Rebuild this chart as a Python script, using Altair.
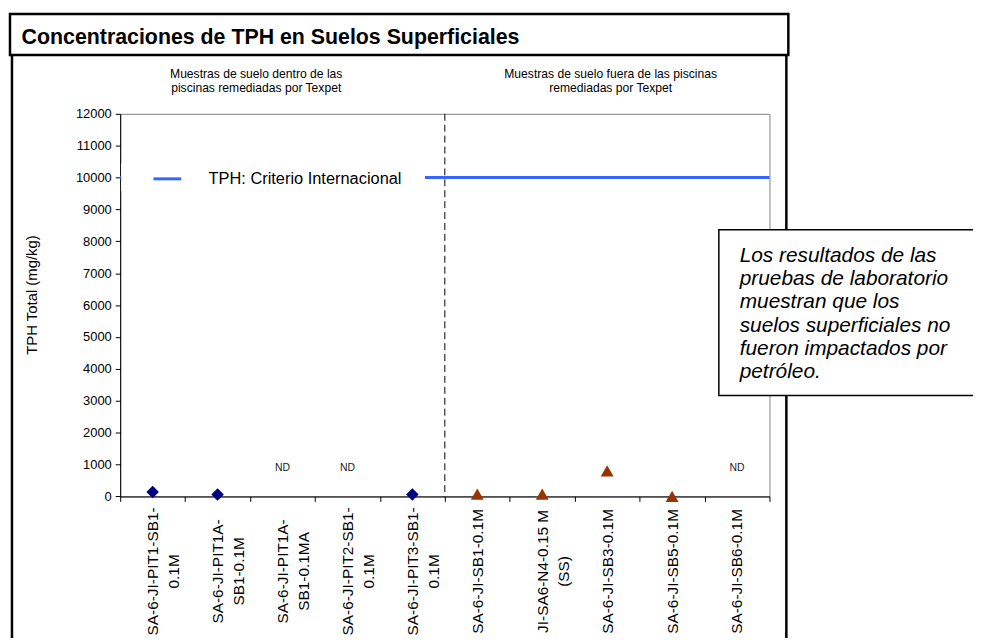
import altair as alt
import pandas as pd

# ---------------- data ----------------
categories = [
    "SA-6-JI-PIT1-SB1-|0.1M",
    "SA-6-JI-PIT1A-|SB1-0.1M",
    "SA-6-JI-PIT1A-|SB1-0.1MA",
    "SA-6-JI-PIT2-SB1-|0.1M",
    "SA-6-JI-PIT3-SB1-|0.1M",
    "SA-6-JI-SB1-0.1M",
    "JI-SA6-N4-0.15 M|(SS)",
    "SA-6-JI-SB3-0.1M",
    "SA-6-JI-SB5-0.1M",
    "SA-6-JI-SB6-0.1M",
]
inside_values = [140, 60, None, None, 60, None, None, None, None, None]
outside_values = [None, None, None, None, None, 70, 70, 800, 5, None]
nd_flags = [False, False, True, True, False, False, False, False, False, True]
nd_level = 900
nd_text = "ND"
criterion_value = 10000
criterion_label = "TPH: Criterio Internacional"
divider_category = categories[5]
y_ticks = list(range(0, 12001, 1000))

title_text = "Concentraciones de TPH en Suelos Superficiales"
subtitle_left = ["Muestras de suelo dentro de las", "piscinas remediadas por Texpet"]
subtitle_right = ["Muestras de suelo fuera de las piscinas", "remediadas por Texpet"]
y_title = "TPH Total (mg/kg)"
note_lines = [
    "Los resultados de las",
    "pruebas de laboratorio",
    "muestran que los",
    "suelos superficiales no",
    "fueron impactados por",
    "petróleo.",
]

FONT = "Liberation Sans"
W, H = 654, 385.4

# ---------------- tables ----------------
inside_df = pd.DataFrame({"cat": categories, "v": inside_values}).dropna()
outside_df = pd.DataFrame({"cat": categories, "v": outside_values}).dropna()
nd_df = pd.DataFrame({
    "cat": [c for c, f in zip(categories, nd_flags) if f],
    "v": [nd_level for f in nd_flags if f],
    "label": [nd_text for f in nd_flags if f],
})
crit_df = pd.DataFrame({"v": [criterion_value], "serie": [criterion_label]})
div_df = pd.DataFrame({"cat": [divider_category]})
one = pd.DataFrame({"a": [0]})

x_scale = alt.Scale(domain=categories, paddingInner=0, paddingOuter=0)
x_axis = alt.Axis(
    title=None, tickBand="extent", labelAngle=270, labelAlign="center",
    labelBaseline="middle", labelPadding=70, tickSize=5,
    labelExpr="split(datum.label, '|')", labelLineHeight=21.5,
    labelFontSize=15.5, labelFont=FONT, labelColor="black",
    domainColor="black", tickColor="black", labelOverlap=False,
    labelLimit=400, grid=False,
)
y_scale = alt.Scale(domain=[0, 12000], nice=False, zero=True)
y_axis = alt.Axis(
    values=y_ticks, format="d", grid=False, tickSize=5, labelPadding=4,
    labelFontSize=13, labelFont=FONT, labelColor="black",
    domainColor="black", tickColor="black",
    title=y_title, titleFont=FONT, titleFontSize=15, titleFontWeight="normal",
    titleColor="black", titleAngle=270, titleX=-89, titleY=182,
    titleAlign="center", titleBaseline="middle",
)


def X(**kw):
    return alt.X("cat:N", sort=categories, scale=x_scale, axis=x_axis, **kw)


def Y():
    return alt.Y("v:Q", scale=y_scale, axis=y_axis)


def deco_rect(x, x2, y, y2, **kw):
    return alt.Chart(one).mark_rect(**kw).encode(
        x=alt.value(x), x2=alt.value(x2), y=alt.value(y), y2=alt.value(y2))


def deco_vline(x, y, y2, **kw):
    return alt.Chart(one).mark_rule(**kw).encode(
        x=alt.value(x), y=alt.value(y), y2=alt.value(y2))


def deco_text(x, y, text, **kw):
    return alt.Chart(one).mark_text(font=FONT, color="black", **kw).encode(
        x=alt.value(x), y=alt.value(y), text=alt.value(text))


# ---------------- layers ----------------
title_box = deco_rect(-111, 673, -100.6, -59.3, fill="white", stroke="black", strokeWidth=2.5)
frame_left = deco_vline(-109, -59.3, 540, color="black", strokeWidth=2.5)
frame_right = deco_vline(671, -59.3, 540, color="black", strokeWidth=2.5)

criterion = alt.Chart(crit_df).mark_rule(strokeWidth=3).encode(
    y=Y(),
    color=alt.Color(
        "serie:N", scale=alt.Scale(range=["#3366FF"]),
        legend=alt.Legend(
            orient="none", legendX=32, legendY=50, title=None,
            symbolType="stroke", symbolSize=784, symbolStrokeWidth=3,
            labelFont=FONT, labelFontSize=16.5, labelColor="black",
            labelOffset=26, padding=0, labelLimit=400,
        ),
    ),
)
legend_mask = deco_rect(1, 307, 50, 78, fill="white")

divider = alt.Chart(div_df).mark_rule(
    color="black", strokeWidth=1, strokeDash=[7, 4]
).encode(x=X(bandPosition=0))

inside_pts = alt.Chart(inside_df).mark_point(
    shape="diamond", filled=True, size=160, color="#000080", opacity=1
).encode(x=X(), y=Y())
outside_pts = alt.Chart(outside_df).mark_point(
    shape="triangle-up", filled=True, size=170, color="#993300", opacity=1
).encode(x=X(), y=Y())
nd_labels = alt.Chart(nd_df).mark_text(
    font=FONT, fontSize=10.5, color="#222222", baseline="middle"
).encode(x=X(), y=Y(), text="label:N")

note_box = deco_rect(603, 900, 116.7, 283.7, fill="white", stroke="black", strokeWidth=1.5)
note_text = deco_text(624, 149.4, note_lines, align="left", baseline="alphabetic",
                      fontSize=21, fontStyle="italic", lineHeight=23.3)

title = deco_text(-99.3, -70.6, title_text, align="left", baseline="alphabetic",
                  fontSize=21.5, fontWeight="bold")
sub_l = deco_text(137, -36.3, subtitle_left, align="center", baseline="alphabetic",
                  fontSize=12.2, lineHeight=14.5)
sub_r = deco_text(494, -36.3, subtitle_right, align="center", baseline="alphabetic",
                  fontSize=12.2, lineHeight=14.5)

chart = alt.layer(
    title_box, frame_left, frame_right,
    criterion, legend_mask, divider,
    inside_pts, outside_pts, nd_labels,
    note_box, note_text, title, sub_l, sub_r,
).properties(
    width=W, height=H,
    autosize=alt.AutoSizeParams(type="none"),
    padding={"left": 113, "top": 104.3, "right": 205, "bottom": 140.3},
    background="white",
).configure_view(stroke="#808080", strokeWidth=1)

chart.save("out.html", embed_options={"renderer": "svg", "actions": False})
